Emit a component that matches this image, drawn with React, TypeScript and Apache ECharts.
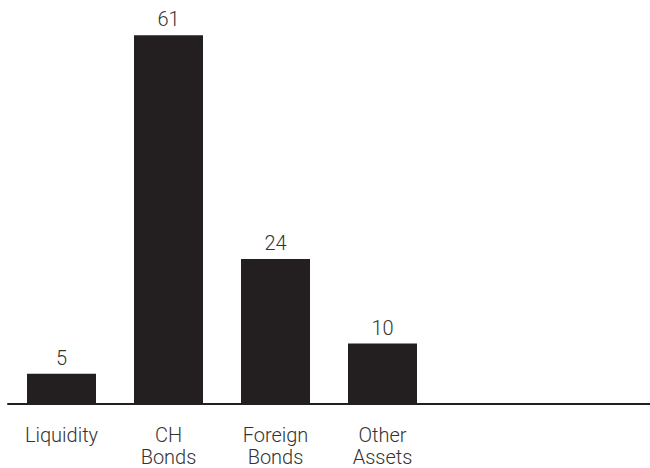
import React, { useEffect, useRef } from "react";
import * as echarts from "echarts";

const categories = ["Liquidity", "CH\nBonds", "Foreign\nBonds", "Other\nAssets", "", ""];
const values: (number | null)[] = [5, 61, 24, 10, null, null];

export default function App() {
  const ref = useRef<HTMLDivElement>(null);
  useEffect(() => {
    const chart = echarts.init(ref.current!, null, { renderer: "svg" });
    chart.setOption({
      animation: false,
      grid: { left: 8, right: 0, top: 5, bottom: 64 },
      xAxis: {
        type: "category",
        data: categories,
        axisLine: { lineStyle: { color: "#231f20", width: 2 } },
        axisTick: { show: false },
        axisLabel: {
          interval: 0,
          margin: 20,
          color: "#333",
          fontFamily: "Roboto",
          fontWeight: 300,
          fontSize: 20,
          lineHeight: 22,
        },
      },
      yAxis: {
        type: "value",
        min: 0,
        max: 66,
        show: false,
        splitLine: { show: false },
      },
      series: [
        {
          type: "bar",
          data: values,
          barWidth: 69,
          itemStyle: { color: "#231f20" },
          label: {
            show: true,
            position: "top",
            distance: 6,
            color: "#333",
            fontFamily: "Roboto",
            fontWeight: 300,
            fontSize: 20,
          },
        },
      ],
    });
    return () => chart.dispose();
  }, []);
  return (
    <div
      ref={ref}
      style={{ position: "fixed", left: 0, top: 0, width: 650, height: 468, background: "#fff" }}
    />
  );
}
